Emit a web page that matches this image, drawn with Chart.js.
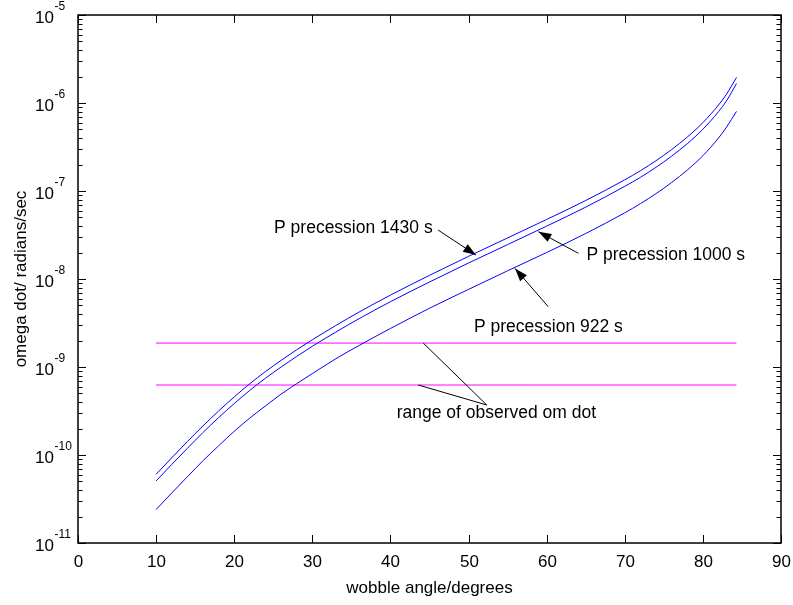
<!DOCTYPE html>
<html>
<head>
<meta charset="utf-8">
<script src="https://cdn.jsdelivr.net/npm/chart.js@4.4.1/dist/chart.umd.min.js"></script>
<style>
    body { margin: 0; background: #fff; }
    #wrap { width: 793px; height: 605px; }
</style>
</head>
<body>
<div id="wrap"><canvas id="chart" width="793" height="605"></canvas></div>
<script>
// wobble angle in degrees
const angles = [10, 12, 14, 16, 18, 20, 22, 24, 26, 28, 30, 33, 36, 40, 45, 50, 55, 60, 65, 70, 72, 74, 76, 78, 80, 82, 83, 84.3];

// omega dot (radians/sec) for each precession period
const omdot1430 = [6.03e-11, 9.29e-11, 1.42e-10, 2.14e-10, 3.16e-10, 4.57e-10, 6.46e-10, 8.87e-10, 1.19e-9, 1.57e-9,
    2.04e-9, 2.96e-9, 4.22e-9, 6.56e-9, 1.10e-8, 1.81e-8, 2.93e-8, 4.75e-8, 7.80e-8, 1.34e-7,
    1.70e-7, 2.21e-7, 2.96e-7, 4.10e-7, 5.98e-7, 9.48e-7, 1.25e-6, 1.95e-6];
const omdot1000 = [5.07e-11, 7.81e-11, 1.19e-10, 1.80e-10, 2.66e-10, 3.84e-10, 5.43e-10, 7.46e-10, 1.00e-9, 1.32e-9,
    1.72e-9, 2.49e-9, 3.55e-9, 5.52e-9, 9.25e-9, 1.52e-8, 2.46e-8, 3.99e-8, 6.56e-8, 1.13e-7,
    1.43e-7, 1.86e-7, 2.49e-7, 3.45e-7, 5.03e-7, 7.97e-7, 1.05e-6, 1.66e-6];
const omdot922 = [2.40e-11, 3.70e-11, 5.65e-11, 8.61e-11, 1.27e-10, 1.86e-10, 2.63e-10, 3.61e-10, 4.91e-10, 6.47e-10,
    8.41e-10, 1.24e-9, 1.76e-9, 2.74e-9, 4.65e-9, 7.62e-9, 1.24e-8, 2.00e-8, 3.29e-8, 5.65e-8,
    7.18e-8, 9.33e-8, 1.25e-7, 1.73e-7, 2.52e-7, 4.00e-7, 5.27e-7, 8.02e-7];

// range of observed om dot (horizontal lines)
const rangeAngles = [10, 84.3];
const observedHigh = 1.87e-9;
const observedLow = 6.24e-10;

const xTicks = [0, 10, 20, 30, 40, 50, 60, 70, 80, 90];
const yExponents = [-11, -10, -9, -8, -7, -6, -5];

// labels with arrows, in data coordinates
const notes = [
    { text: 'P precession 1430 s', at: [25.1, 3.33e-8], from: [46.1, 3.6e-8], to: [50.96, 1.87e-8], head: true },
    { text: 'P precession 1000 s', at: [65.1, 1.64e-8], from: [64.06, 1.96e-8], to: [58.94, 3.45e-8], head: true },
    { text: 'P precession 922 s', at: [50.7, 2.50e-9], from: [60.2, 4.84e-9], to: [55.95, 1.32e-8], head: true },
    { text: 'range of observed om dot', at: [40.8, 2.63e-10], from: [52.33, 3.70e-10], to: [44.2, observedHigh], head: false },
    { text: null, from: [52.33, 3.70e-10], to: [43.57, observedLow], head: false }
];

const FONT = '"Liberation Sans", Arial, Helvetica, sans-serif';
const pts = (xs, ys) => xs.map((x, i) => ({ x, y: ys[i] }));

const axesPlugin = {
    id: 'matlabAxes',
    afterDraw(chart) {
        const ctx = chart.ctx;
        const xs = chart.scales.x, ys = chart.scales.y;
        const a = chart.chartArea;
        ctx.save();
        ctx.strokeStyle = '#000';
        ctx.fillStyle = '#000';

        // box
        ctx.lineWidth = 1.5;
        ctx.strokeRect(a.left, a.top, a.right - a.left, a.bottom - a.top);

        // x ticks (bottom and top, inward)
        ctx.lineWidth = 1;
        ctx.font = '17px ' + FONT;
        ctx.textAlign = 'center';
        ctx.textBaseline = 'alphabetic';
        xTicks.forEach(v => {
            const px = Math.round(xs.getPixelForValue(v)) + 0.5;
            ctx.beginPath();
            ctx.moveTo(px, a.bottom); ctx.lineTo(px, a.bottom - 8);
            ctx.moveTo(px, a.top); ctx.lineTo(px, a.top + 8);
            ctx.stroke();
            ctx.fillText(String(v), px, a.bottom + 24);
        });

        // y ticks (log, major + minor, both sides)
        yExponents.forEach((e, i) => {
            const py = Math.round(ys.getPixelForValue(Math.pow(10, e))) + 0.5;
            ctx.beginPath();
            ctx.moveTo(a.left, py); ctx.lineTo(a.left + 8, py);
            ctx.moveTo(a.right, py); ctx.lineTo(a.right - 8, py);
            ctx.stroke();
            if (i < yExponents.length - 1) {
                for (let m = 2; m <= 9; m++) {
                    const my = Math.round(ys.getPixelForValue(m * Math.pow(10, e))) + 0.5;
                    ctx.beginPath();
                    ctx.moveTo(a.left, my); ctx.lineTo(a.left + 4.5, my);
                    ctx.moveTo(a.right, my); ctx.lineTo(a.right - 4.5, my);
                    ctx.stroke();
                }
            }
            // label 10^e
            ctx.textAlign = 'left';
            ctx.font = '17px ' + FONT;
            ctx.fillText('10', 35, py + 7);
            ctx.font = '12px ' + FONT;
            ctx.fillText(String(e), 54.5, py - 6);
        });

        // axis titles
        ctx.font = '17px ' + FONT;
        ctx.textAlign = 'center';
        ctx.fillText('wobble angle/degrees', (a.left + a.right) / 2, 593);
        ctx.save();
        ctx.translate(26, 279);
        ctx.rotate(-Math.PI / 2);
        ctx.fillText('omega dot/ radians/sec', 0, 0);
        ctx.restore();

        // annotations
        ctx.font = '17.5px ' + FONT;
        ctx.textAlign = 'left';
        notes.forEach(n => {
            const x1 = xs.getPixelForValue(n.from[0]), y1 = ys.getPixelForValue(n.from[1]);
            const x2 = xs.getPixelForValue(n.to[0]), y2 = ys.getPixelForValue(n.to[1]);
            ctx.lineWidth = 1;
            ctx.beginPath();
            ctx.moveTo(x1, y1); ctx.lineTo(x2, y2);
            ctx.stroke();
            if (n.head) {
                const ang = Math.atan2(y2 - y1, x2 - x1);
                const len = 13, hw = 4.5;
                const bx = x2 - len * Math.cos(ang), by = y2 - len * Math.sin(ang);
                ctx.beginPath();
                ctx.moveTo(x2, y2);
                ctx.lineTo(bx + hw * Math.sin(ang), by - hw * Math.cos(ang));
                ctx.lineTo(bx - hw * Math.sin(ang), by + hw * Math.cos(ang));
                ctx.closePath();
                ctx.fill();
            }
            if (n.text) {
                ctx.fillText(n.text, xs.getPixelForValue(n.at[0]), ys.getPixelForValue(n.at[1]));
            }
        });
        ctx.restore();
    }
};

const blue = '#0000ff';
const magenta = '#ff00ff';

new Chart(document.getElementById('chart'), {
    type: 'line',
    data: {
        datasets: [
            { data: pts(angles, omdot1430), borderColor: blue },
            { data: pts(angles, omdot1000), borderColor: blue },
            { data: pts(angles, omdot922), borderColor: blue },
            { data: pts(rangeAngles, [observedHigh, observedHigh]), borderColor: magenta },
            { data: pts(rangeAngles, [observedLow, observedLow]), borderColor: magenta }
        ]
    },
    options: {
        responsive: false,
        animation: false,
        devicePixelRatio: 1,
        layout: { padding: { left: 78, top: 15, right: 12, bottom: 62 } },
        elements: {
            line: { borderWidth: 1, cubicInterpolationMode: 'monotone', fill: false },
            point: { radius: 0 }
        },
        plugins: {
            legend: { display: false },
            tooltip: { enabled: false }
        },
        scales: {
            x: { type: 'linear', min: 0, max: 90, display: false },
            y: { type: 'logarithmic', min: 1e-11, max: 1e-5, display: false }
        }
    },
    plugins: [axesPlugin]
});
</script>
</body>
</html>
